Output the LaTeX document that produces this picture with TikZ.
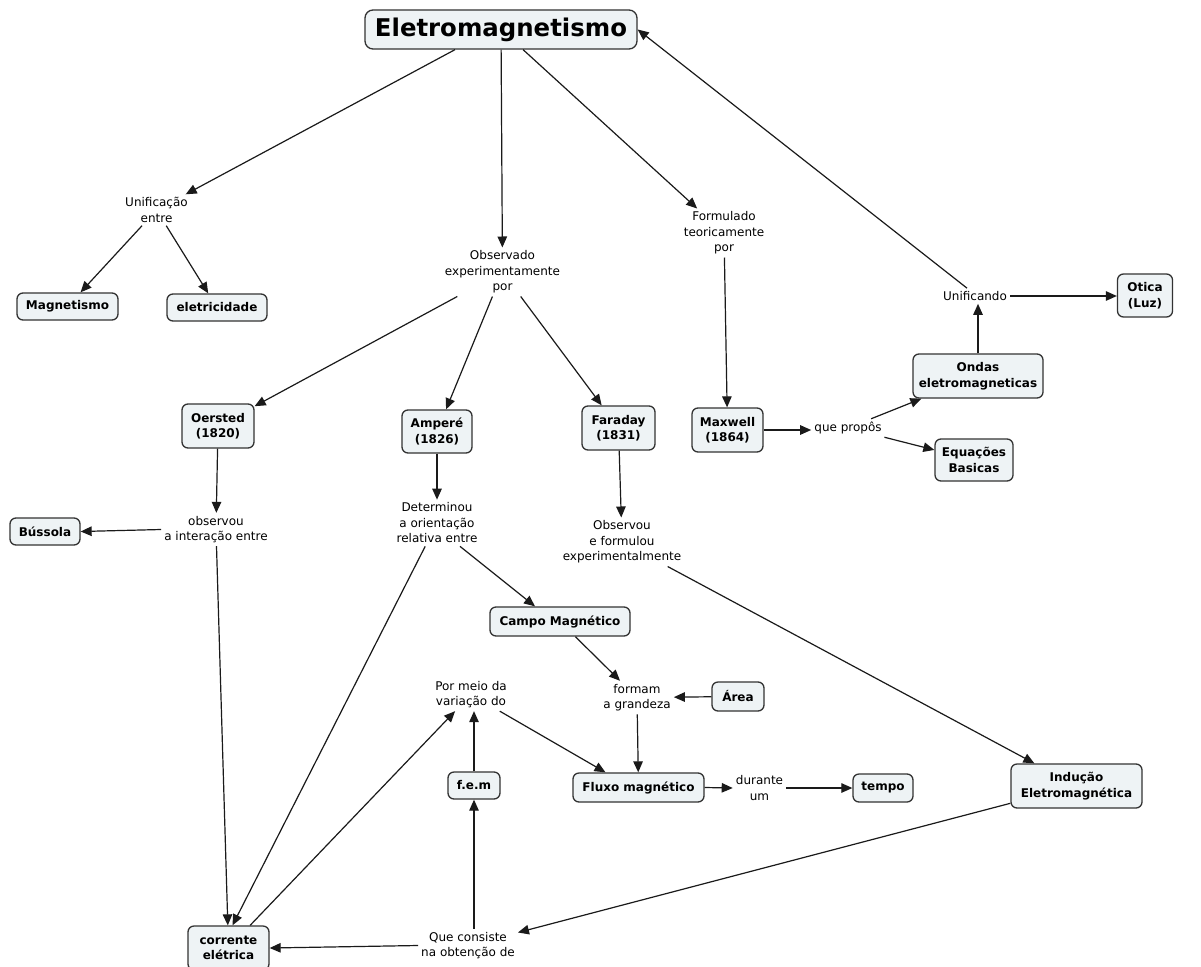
\documentclass[tikz,border=0pt]{standalone}
\usepackage{fontspec}
\setmainfont{DejaVu Sans}
\usetikzlibrary{arrows.meta}
\definecolor{boxfill}{HTML}{EEF3F5}
\definecolor{boxline}{HTML}{333333}
\definecolor{ink}{HTML}{1A1A1A}

\tikzset{
  concept/.style={draw=boxline, fill=boxfill, line width=1.3pt, rounded corners=6pt,
    align=center, inner sep=0pt, font=\bfseries\fontsize{12}{15.5}\selectfont},
  phrase/.style={align=center, inner sep=3pt, font=\fontsize{12}{15.5}\selectfont},
  link/.style={draw=ink, line width=1.2pt, -{Triangle[length=11pt,width=9.5pt]}},
}

\begin{document}
\begin{tikzpicture}[x=1pt,y=-1pt]
\clip (0,0) rectangle (1201,966);
\fill[white] (0,0) rectangle (1201,966);

% concepts
\node[concept, rounded corners=8pt, minimum width=272pt, minimum height=39pt,
      font=\bfseries\fontsize{24.4}{28}\selectfont] (title) at (501,29.5) {Eletromagnetismo};
\node[concept, minimum width=101pt, minimum height=27pt] (mag)  at (67.5,306.5) {Magnetismo};
\node[concept, minimum width=100pt, minimum height=27pt] (elet) at (217,307.5) {eletricidade};
\node[concept, minimum width=72pt, minimum height=44pt] (oersted) at (218,426) {Oersted\\(1820)};
\node[concept, minimum width=70pt, minimum height=43pt] (ampere)  at (437,431.5) {Amperé\\(1826)};
\node[concept, minimum width=73pt, minimum height=44pt] (faraday) at (618.5,428) {Faraday\\(1831)};
\node[concept, minimum width=71pt, minimum height=44pt] (maxwell) at (727.5,430) {Maxwell\\(1864)};
\node[concept, minimum width=130pt, minimum height=44pt] (ondas) at (978,376) {Ondas\\eletromagneticas};
\node[concept, minimum width=78pt, minimum height=42pt] (equacoes) at (974,460) {Equações\\Basicas};
\node[concept, minimum width=55pt, minimum height=43pt] (otica) at (1145,295.5) {Otica\\(Luz)};
\node[concept, minimum width=70pt, minimum height=27pt] (bussola) at (45,531.5) {Bússola};
\node[concept, minimum width=140pt, minimum height=29pt] (campo) at (560,621.5) {Campo Magnético};
\node[concept, minimum width=52pt, minimum height=29pt] (area) at (738,696.5) {Área};
\node[concept, minimum width=52pt, minimum height=27pt] (fem) at (474,785.5) {f.e.m};
\node[concept, minimum width=131pt, minimum height=29pt] (fluxo) at (638.5,787.5) {Fluxo magnético};
\node[concept, minimum width=60pt, minimum height=28pt] (tempo) at (883,788) {tempo};
\node[concept, minimum width=131pt, minimum height=44pt] (inducao) at (1076.5,786) {Indução\\Eletromagnética};
\node[concept, minimum width=81pt, minimum height=44pt] (corrente) at (228.5,948) {corrente\\elétrica};

% linking phrases
\node[phrase] (unif) at (156.5,210) {Unificação\\entre};
\node[phrase] (obs) at (502.5,272) {Observado\\experimentamente\\por};
\node[phrase] (form) at (724,233) {Formulado\\teoricamente\\por};
\node[phrase] (unificando) at (975,296) {Unificando};
\node[phrase] (queprop) at (848,428) {que propôs};
\node[phrase] (observou) at (216,529.5) {observou\\a interação entre};
\node[phrase] (determinou) at (437,523) {Determinou\\a orientação\\relativa entre};
\node[phrase] (observou2) at (622,542) {Observou\\e formulou\\experimentalmente};
\node[phrase] (formam) at (637,697.5) {formam\\a grandeza};
\node[phrase] (pormeio) at (471,694.5) {Por meio da\\variação do};
\node[phrase] (durante) at (759.5,788) {durante\\um};
\node[phrase] (queconsiste) at (468,945.5) {Que consiste\\na obtenção de};

% connectors
\draw[link] ([xshift=-46pt]title.south) -- (unif);
\draw[link] (unif) -- (mag);
\draw[link] (unif) -- (elet);
\draw[link] (title) -- (obs);
\draw[link] (title) -- (form);
\draw[link] ([xshift=-8pt]unificando.north) -- (title.east);
\draw[link] (unificando.east) -- (unificando.east -| otica.west);
\draw[link] (ondas.north) -- (ondas.north |- unificando.south);
\draw[link] (form) -- (maxwell);
\draw[link] (maxwell.east) -- (maxwell.east -| queprop.west);
\draw[link] (queprop) -- (ondas);
\draw[link] (queprop) -- (equacoes);
\draw[link] (obs) -- (oersted);
\draw[link] (obs) -- (ampere);
\draw[link] (obs) -- (faraday);
\draw[link] (oersted) -- (observou);
\draw[link] (observou.west) -- (bussola.east);
\draw[link] (observou) -- (corrente);
\draw[link] (ampere) -- (determinou);
\draw[link] (determinou) -- ([xshift=4pt]corrente.north);
\draw[link] ([xshift=23pt]determinou.south) -- ([xshift=-25pt]campo.north);
\draw[link] (corrente) -- (pormeio);
\draw[link] (faraday) -- (observou2);
\draw[link] (observou2) -- (inducao);
\draw[link] (campo) -- (formam);
\draw[link] (area) -- (formam);
\draw[link] (formam) -- (fluxo);
\draw[link] (pormeio) -- ([xshift=-33pt]fluxo.north);
\draw[link] (fem.north) -- (fem.north |- pormeio.south);
\draw[link] (fem.south |- queconsiste.north) -- (fem.south);
\draw[link] (inducao) -- (queconsiste);
\draw[link] (queconsiste.west) -- (corrente.east);
\draw[link] (fluxo.east) -- (durante.west);
\draw[link] (durante.east) -- (tempo.west);
\end{tikzpicture}
\end{document}
